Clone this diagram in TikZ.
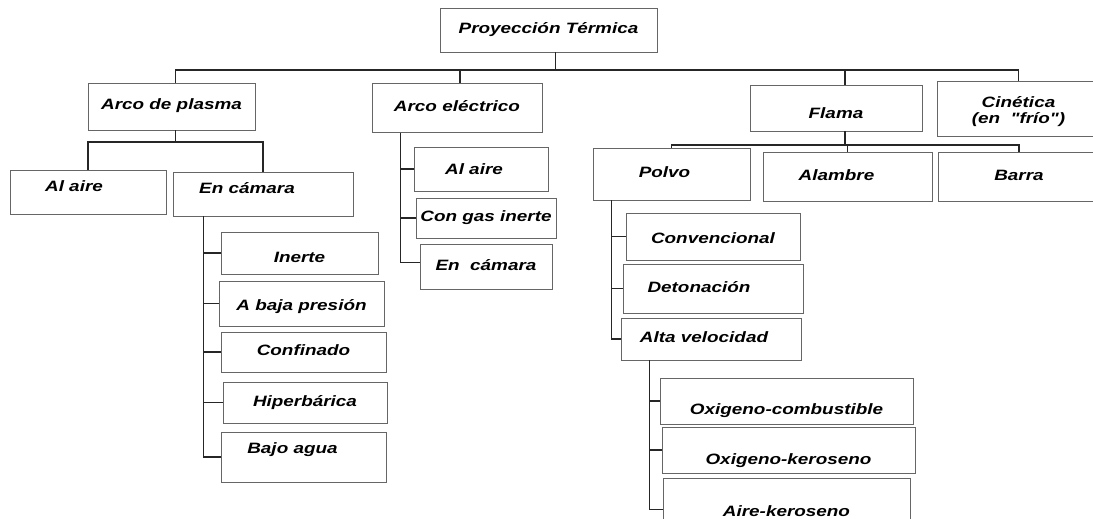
\documentclass[tikz,border=0pt]{standalone}
\usepackage{fontspec}
\newfontfamily\chartfont[FakeStretch=1.26]{Liberation Sans}
\begin{document}
\begin{tikzpicture}[x=1pt,y=-1pt,
  box/.style={draw=black!60, line width=0.9pt, inner sep=0pt,
    text height=11pt, text depth=4pt,
    font=\chartfont\bfseries\itshape\fontsize{15}{16}\selectfont},
  sz/.style 2 args={minimum width=#1, minimum height=#2},
  lshift/.style={execute at end node={\hspace{#1}}},
  down/.style={text height=#1},
  up/.style={text depth=#1},
  link/.style={black!85, line width=1.3pt}]
\useasboundingbox (0,0) rectangle (1093,519);
% Top level
\node[box, sz={217}{44}] (root) at (548.5,30) {Proyección Térmica};
\node[box, sz={167}{47}] (plasma) at (171.5,106.5) {Arco de plasma};
\node[box, sz={170}{49}] (electrico) at (457,108) {Arco eléctrico};
\node[box, sz={172}{46}, down=25pt] (flama) at (836,108) {Flama};
\node[box, sz={163}{55}, down=19pt] (cinetica) at (1018.5,108.5)
  {\begin{tabular}{@{}c@{}}Cinética\\[0pt](en~~"frío")\end{tabular}};
% Arco de plasma
\node[box, sz={156}{44}, lshift=28pt, up=12pt] (aire1) at (88,192) {Al aire};
\node[box, sz={180}{44}, lshift=32pt, up=12pt] (camara1) at (263,194) {En cámara};
\node[box, sz={157}{42}, down=23pt] (inerte) at (299.5,253) {Inerte};
\node[box, sz={165}{45}, down=17pt] (baja) at (301.5,303.5) {A baja presión};
\node[box, sz={165}{40}] (confinado) at (303.5,352) {Confinado};
\node[box, sz={164}{41}] (hiper) at (305,402.5) {Hiperbárica};
\node[box, sz={165}{50}, lshift=22pt, up=18pt] (bajo) at (303.5,457) {Bajo agua};
% Arco electrico
\node[box, sz={134}{44}, lshift=14pt, down=15pt] (aire2) at (481,169) {Al aire};
\node[box, sz={140}{40}] (gas) at (486,218) {Con gas inerte};
\node[box, sz={132}{45}] (camara2) at (486,266.5) {En~~cámara};
% Flama
\node[box, sz={157}{52}, lshift=14pt] (polvo) at (671.5,174) {Polvo};
\node[box, sz={169}{49}, lshift=22pt] (alambre) at (847.5,176.5) {Alambre};
\node[box, sz={162}{49}] (barra) at (1019,176.5) {Barra};
\node[box, sz={174}{47}, down=17pt] (conv) at (713,236.5) {Convencional};
\node[box, sz={180}{49}, lshift=28pt] (deto) at (713,288.5) {Detonación};
\node[box, sz={180}{42}, lshift=14pt] (alta) at (711,339) {Alta velocidad};
\node[box, sz={253}{46}, down=31pt] (oxc) at (786.5,401) {Oxigeno-combustible};
\node[box, sz={253}{46}, down=33pt] (oxk) at (788.5,450) {Oxigeno-keroseno};
\node[box, sz={247}{47}, down=33pt] (airek) at (786.5,501.5) {Aire-keroseno};
% Buses
\coordinate (bus1) at (0,70);
\coordinate (bus2) at (0,142);
\coordinate (bus3) at (0,145);
\draw[link] ([xshift=7pt]root.south) -- ([xshift=7pt]root.south |- bus1);
\draw[link] ([xshift=4pt]plasma.north) |- (cinetica.north |- bus1) -- (cinetica.north);
\draw[link] ([xshift=3pt]electrico.north) -- ([xshift=3pt]electrico.north |- bus1);
\draw[link] ([xshift=9pt]flama.north) -- ([xshift=9pt]flama.north |- bus1);
% Arco de plasma branches
\draw[link] ([xshift=4pt]plasma.south) -- ([xshift=4pt]plasma.south |- bus2);
\draw[link] (aire1.north) |- (camara1.north |- bus2) -- (camara1.north);
\coordinate (sp1) at ([xshift=31pt]camara1.south west);
\draw[link] (sp1) |- (bajo.west);
\foreach \n in {inerte,baja,confinado,hiper}
  \draw[link] (sp1 |- \n.west) -- (\n.west);
% Arco electrico branches
\coordinate (sp2) at ([xshift=29pt]electrico.south west);
\draw[link] (sp2) |- ([yshift=4pt]camara2.west);
\foreach \n in {aire2,gas}
  \draw[link] (sp2 |- \n.west) -- (\n.west);
% Flama branches
\draw[link] ([xshift=9pt]flama.south) -- ([xshift=9pt]flama.south |- bus3);
\draw[link] (polvo.north) |- (barra.north |- bus3) -- (barra.north);
\draw[link] (alambre.north) -- (alambre.north |- bus3);
\coordinate (sp3) at ([xshift=19pt]polvo.south west);
\draw[link] (sp3) |- (alta.west);
\foreach \n in {conv,deto}
  \draw[link] (sp3 |- \n.west) -- (\n.west);
\coordinate (sp4) at ([xshift=29pt]alta.south west);
\draw[link] (sp4) |- ([yshift=-8pt]airek.west);
\foreach \n in {oxc,oxk}
  \draw[link] (sp4 |- \n.west) -- (\n.west);
\end{tikzpicture}
\end{document}
